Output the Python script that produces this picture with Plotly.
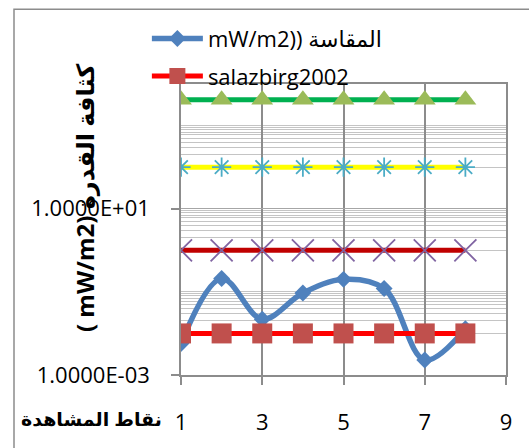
import plotly.graph_objects as go

x_points = [1, 2, 3, 4, 5, 6, 7, 8]
measured = [0.0057, 0.21, 0.022, 0.094, 0.2, 0.12, 0.0023, 0.013]
salazbirg = [0.01] * 8
green_ref = [4200] * 8
yellow_ref = [100] * 8
darkred_ref = [1.0] * 8

measured_name = "mW/m2)) المقاسة"
salaz_name = "salazbirg2002"

x_ticks = [1, 3, 5, 7, 9]
y_ticks = [1e-3, 1e1]
y_tick_text = ["1.0000E-03", "1.0000E+01"]
y_minor = [k * 1e-2 for k in range(1, 11)] + [k * 1.0 for k in range(1, 10)] + [k * 100.0 for k in range(1, 11)]

y_title = "( mW/m2) كثافة القدرة"
x_title = "نقاط المشاهدة"

FONT = "Open Sans, DejaVu Sans, sans-serif"

fig = go.Figure()
fig.add_trace(go.Scatter(
    x=x_points, y=measured, name=measured_name, mode="lines+markers",
    line=dict(color="#4F81BD", width=5.5, shape="spline", smoothing=1),
    marker=dict(symbol="diamond", size=13, color="#4F81BD"),
    legendgroup="a"))
fig.add_trace(go.Scatter(
    x=x_points, y=salazbirg, name=salaz_name, mode="lines+markers",
    line=dict(color="#FF0000", width=5),
    marker=dict(symbol="square", size=20, color="#C0504D"),
    legendgroup="b"))
fig.add_trace(go.Scatter(
    x=x_points, y=green_ref, mode="lines+markers", showlegend=False,
    line=dict(color="#00B050", width=5),
    marker=dict(symbol="triangle-up", size=19, color="#9BBB59")))
fig.add_trace(go.Scatter(
    x=x_points, y=yellow_ref, mode="lines+markers", showlegend=False,
    line=dict(color="#FFFF00", width=5),
    marker=dict(symbol="asterisk-open", size=16, color="#4BACC6", line=dict(color="#4BACC6", width=1.8))))
fig.add_trace(go.Scatter(
    x=x_points, y=darkred_ref, mode="lines+markers", showlegend=False,
    line=dict(color="#C00000", width=5),
    marker=dict(symbol="x-thin-open", size=22, color="#8064A2", line=dict(color="#8064A2", width=1.8))))

fig.update_layout(
    width=529, height=448,
    margin=dict(l=181, r=23, t=84, b=68),
    paper_bgcolor="white", plot_bgcolor="white",
    font=dict(family=FONT, size=21, color="black"),
    showlegend=True,
    legend=dict(x=-0.105, y=1.228, xanchor="left", yanchor="top",
                bgcolor="rgba(0,0,0,0)", itemwidth=51,
                font=dict(family=FONT, size=22, color="black"),
                tracegroupgap=6, traceorder="grouped"),
    xaxis=dict(range=[1, 9], tickvals=x_ticks, showgrid=True, gridcolor="#8c8c8c", gridwidth=1.5,
               showline=True, linecolor="#8c8c8c", linewidth=1.5, mirror=True,
               ticks="outside", ticklen=8, tickcolor="#8c8c8c", tickwidth=1.5,
               ticklabelstandoff=19, zeroline=False,
               tickfont=dict(family=FONT, size=22, color="black")),
    yaxis=dict(type="log", range=[-3, 4], tickvals=y_ticks, ticktext=y_tick_text,
               showgrid=True, gridcolor="#a6a6a6", gridwidth=1,
               showline=True, linecolor="#8c8c8c", linewidth=1.5, mirror=True,
               ticks="outside", ticklen=8, tickcolor="#8c8c8c", tickwidth=1.5,
               ticklabelstandoff=17,
               minor=dict(tickvals=y_minor, showgrid=True, gridcolor="#c4c4c4", gridwidth=1, ticks=""),
               tickfont=dict(family=FONT, size=22, color="black")),
)

fig.add_shape(type="rect", xref="paper", yref="paper",
              x0=(14 - 181) / 325, x1=(540 - 181) / 325,
              y0=(380 - 460) / 296, y1=(380 - 8) / 296,
              line=dict(color="#8c8c8c", width=1.5), layer="below")

fig.add_annotation(xref="paper", yref="paper", x=(84 - 181) / 325, y=(380 - 200) / 296,
                   text="<b>" + y_title + "</b>", textangle=-90, showarrow=False,
                   font=dict(family=FONT, size=24, color="black"),
                   xanchor="center", yanchor="middle")
fig.add_annotation(xref="paper", yref="paper", x=(164 - 181) / 325, y=(380 - 425) / 296,
                   text="<b>" + x_title + "</b>", showarrow=False,
                   font=dict(family=FONT, size=19, color="black"),
                   xanchor="right", yanchor="middle")

fig.write_html("out.html", config={"displayModeBar": False},
               post_script="document.body.style.margin='0';")
